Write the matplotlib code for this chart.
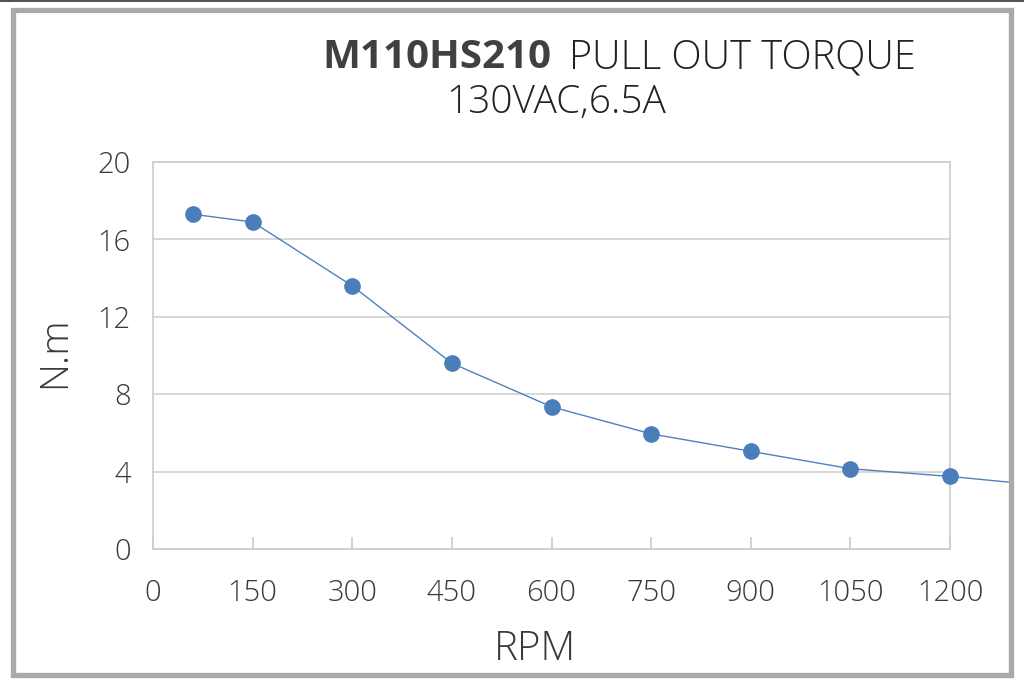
import matplotlib
matplotlib.use("Agg")
import matplotlib.pyplot as plt
from matplotlib.patches import Rectangle
from matplotlib.lines import Line2D

rpm = [60, 150, 300, 450, 600, 750, 900, 1050, 1200, 1350]
torque = [17.3, 16.9, 13.6, 9.6, 7.35, 5.95, 5.05, 4.15, 3.75, 3.25]
xticks = [0, 150, 300, 450, 600, 750, 900, 1050, 1200]
yticks = [0, 4, 8, 12, 16, 20]
title_bold = "M110HS210"
title_rest = "PULL OUT TORQUE"
subtitle = "130VAC,6.5A"
xlabel = "RPM"
ylabel = "N.m"

W, H = 1024, 685
fig = plt.figure(figsize=(W / 100, H / 100), dpi=100)
fig.patch.set_facecolor("white")
FONT = "Open Sans"
TXT = "#3a3a3a"

ax = fig.add_axes([153 / W, 1 - 549 / H, (950 - 153) / W, (549 - 162) / H])
ax.set_xlim(0, 1200)
ax.set_ylim(0, 20)
ax.set_xticks(xticks)
ax.set_yticks(yticks)
ax.grid(axis="y", color="#d4d4d4", linewidth=1.3)
ax.set_axisbelow(True)
for s in ax.spines.values():
    s.set_color("#cfcfcf")
    s.set_linewidth(1.3)
ax.tick_params(axis="x", direction="in", length=9, width=1.3, color="#cfcfcf",
               pad=21, labelsize=21, labelcolor=TXT)
ax.tick_params(axis="y", length=0, pad=16, labelsize=21, labelcolor=TXT)
for lab in ax.get_xticklabels() + ax.get_yticklabels():
    lab.set_fontfamily(FONT)
    lab.set_fontweight("light")

line, = ax.plot(rpm, torque, color="#4f81bd", linewidth=1.0, marker="o",
                markersize=11, markerfacecolor="#4a7ebb", markeredgecolor="#4a7ebb",
                zorder=5)
clip_rect = Rectangle((0, 0), 1009 / W, 1, transform=fig.transFigure, visible=False)
fig.add_artist(clip_rect)
line.set_clip_path(clip_rect)
line.set_clip_on(True)

fig.text(535 / W, 1 - 650 / H, xlabel, ha="center", va="center", fontsize=29,
         family=FONT, fontweight="light", color=TXT)
fig.text(55 / W, 1 - 352 / H, ylabel, ha="center", va="center", fontsize=28,
         rotation=90, family=FONT, fontweight="light", color=TXT)

fig.text(551 / W, 1 - 58 / H, title_bold, ha="right", va="center", fontsize=29,
         family=FONT, fontweight="bold", color="#404040")
fig.text(569 / W, 1 - 58 / H, title_rest, ha="left", va="center", fontsize=28.5,
         family=FONT, fontweight="light", color="#222222")
fig.text(556 / W, 1 - 103 / H, subtitle, ha="center", va="center", fontsize=28,
         family=FONT, fontweight="light", color="#222222")

# outer grey frame
fig.add_artist(Rectangle((12.5 / W, 1 - 675 / H), (1011 - 12.5) / W, (675 - 10) / H,
                         transform=fig.transFigure, fill=False, edgecolor="#a9a9a9",
                         linewidth=3.8, zorder=10))
fig.add_artist(Line2D([0, 1], [1 - 0.8 / H, 1 - 0.8 / H], transform=fig.transFigure,
                      color="#333333", linewidth=1.2, zorder=10))

fig.savefig("out.png", dpi=100, facecolor="white")
